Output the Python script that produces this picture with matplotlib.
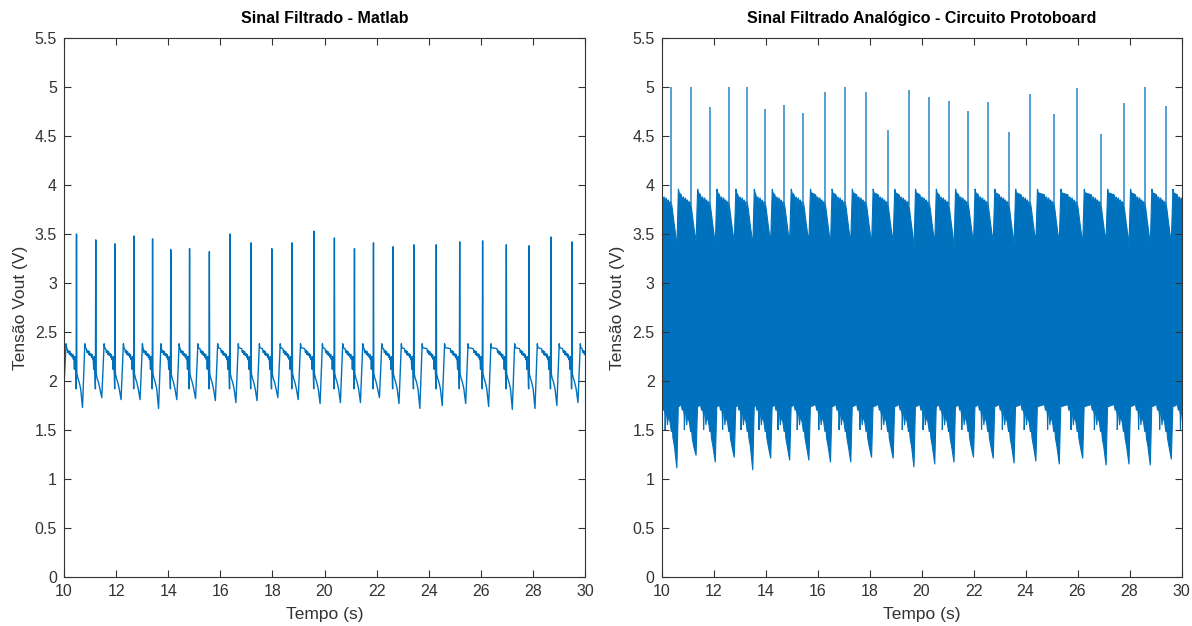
import numpy as np
import matplotlib
matplotlib.use("Agg")
import matplotlib.pyplot as plt
from matplotlib.ticker import FuncFormatter

plt.rcParams['font.family'] = ['Liberation Sans', 'DejaVu Sans']

BLUE = '#0072BD'
AXC = '#333333'

# ---- left: signal filtered in Matlab ----
# R spike times (s), R peak (V), trough after the spike (V)
spk_l = [9.76, 10.48, 11.22, 11.96, 12.69, 13.40, 14.10, 14.82, 15.58, 16.37, 17.18,
         17.98, 18.76, 19.60, 20.38, 21.15, 21.88, 22.63, 23.43, 24.29, 25.19,
         26.07, 26.98, 27.85, 28.69, 29.50, 30.25]
peak_l = [3.45, 3.50, 3.44, 3.40, 3.48, 3.45, 3.34, 3.35, 3.32, 3.50, 3.41,
          3.35, 3.41, 3.53, 3.46, 3.35, 3.41, 3.37, 3.39, 3.39, 3.42,
          3.43, 3.39, 3.38, 3.47, 3.42, 3.45]
trough_l = [1.90, 1.73, 1.83, 1.81, 1.81, 1.72, 1.81, 1.82, 1.80, 1.78, 1.80,
            1.83, 1.81, 1.77, 1.78, 1.78, 1.83, 1.77, 1.72, 1.75, 1.77,
            1.74, 1.71, 1.72, 1.75, 1.78, 1.80]
# shape of one beat around its spike: offset (s) and level (V); P = peak, T = trough
beat_off_l = [-0.36, -0.33, -0.30, -0.27, -0.25, -0.22, -0.19, -0.16, -0.14, -0.12,
              -0.10, -0.08, -0.06, -0.04, -0.015, 0.0, 0.012, 0.05, 0.10, 0.16,
              0.23, 0.32, 0.34]
beat_val_l = [2.33, 2.29, 2.31, 2.27, 2.30, 2.26, 2.28, 2.24, 2.27, 2.22,
              2.24, 2.12, 2.25, 2.20, 1.92, 'P', 2.08, 2.03, 1.99, 1.92,
              'T', 2.38, 2.34]

# ---- right: analog filtered signal, dense band ----
spk_r = [9.66, 10.38, 11.12, 11.86, 12.59, 13.30, 13.99, 14.72, 15.46, 16.29, 17.07,
         17.87, 18.70, 19.50, 20.30, 21.04, 21.79, 22.55, 23.35, 24.19, 25.09,
         25.99, 26.89, 27.77, 28.59, 29.40, 30.20]
peak_r = [4.90, 5.00, 5.00, 4.80, 5.00, 5.00, 4.78, 4.82, 4.73, 4.95, 5.00,
          4.95, 4.56, 4.97, 4.90, 4.86, 4.76, 4.85, 4.54, 4.93, 4.72,
          4.99, 4.52, 4.84, 5.00, 4.81, 4.90]
up_trough_r = [3.40, 3.34, 3.43, 3.39, 3.43, 3.36, 3.43, 3.44, 3.43, 3.38, 3.43,
               3.38, 3.43, 3.34, 3.41, 3.34, 3.41, 3.43, 3.39, 3.43, 3.43,
               3.39, 3.46, 3.38, 3.38, 3.43, 3.40]
low_trough_r = [1.20, 1.11, 1.24, 1.17, 1.22, 1.09, 1.21, 1.19, 1.19, 1.17, 1.17,
                1.22, 1.21, 1.12, 1.15, 1.17, 1.22, 1.21, 1.16, 1.18, 1.15,
                1.21, 1.14, 1.15, 1.14, 1.20, 1.20]
up_off = [-0.36, -0.32, -0.28, -0.24, -0.20, -0.16, -0.12, -0.08, -0.05, 0.0,
          0.04, 0.10, 0.16, 0.21, 0.27, 0.30]
up_val = [3.90, 3.85, 3.88, 3.83, 3.87, 3.82, 3.85, 3.80, 3.83, 3.82,
          3.75, 3.62, 3.50, 'T', 3.96, 3.92]
low_off = [-0.36, -0.32, -0.28, -0.25, -0.24, -0.22, -0.18, -0.15, -0.12, -0.10,
           -0.05, 0.0, 0.03, 0.06, 0.12, 0.21, 0.27, 0.30]
low_val = [1.76, 1.70, 1.72, 1.66, 1.50, 1.69, 1.66, 1.55, 1.65, 1.62,
           1.58, 1.48, 1.55, 1.42, 1.33, 'T', 1.78, 1.74]

yticks = np.arange(0, 5.51, 0.5)
xticks = np.arange(10, 31, 2)


def beats(times, offs, vals, peaks=None, troughs=None):
    t, v = [], []
    for i, ts in enumerate(times):
        for o, val in zip(offs, vals):
            t.append(ts + o)
            if val == 'P':
                v.append(peaks[i])
            elif val == 'T':
                v.append(troughs[i])
            else:
                v.append(val)
    return np.array(t), np.array(v)


def style(ax, title):
    ax.set_xlim(10, 30)
    ax.set_ylim(0, 5.5)
    ax.set_xticks(xticks)
    ax.set_yticks(yticks)
    ax.yaxis.set_major_formatter(FuncFormatter(lambda y, p: f'{y:g}'))
    ax.tick_params(direction='in', length=5, width=0.8, top=True, right=True,
                   colors=AXC, labelsize=11.5, pad=5)
    for s in ax.spines.values():
        s.set_color(AXC)
        s.set_linewidth(0.8)
    ax.set_title(title, fontsize=11.5, fontweight='bold', color='black', pad=11)
    ax.set_xlabel('Tempo (s)', fontsize=12.5, color=AXC, labelpad=6)
    ax.set_ylabel('Tensão Vout (V)', fontsize=12.5, color=AXC, labelpad=5)


fig = plt.figure(figsize=(11.92, 6.26), dpi=100)
ax1 = fig.add_axes([64 / 1192, 49 / 626, 521 / 1192, 539 / 626])
ax2 = fig.add_axes([661.5 / 1192, 49 / 626, 520 / 1192, 539 / 626])

# left
tl, vl = beats(spk_l, beat_off_l, beat_val_l, peak_l, trough_l)
ax1.plot(tl, vl, color=BLUE, lw=1.0)
style(ax1, 'Sinal Filtrado - Matlab')

# right: band between upper and lower edges, spikes on top
tu, vu = beats(spk_r, up_off, up_val, troughs=up_trough_r)
td, vd = beats(spk_r, low_off, low_val, troughs=low_trough_r)
ax2.fill(np.concatenate([tu, td[::-1]]), np.concatenate([vu, vd[::-1]]),
         color=BLUE, lw=0.8, ec=BLUE)
ax2.vlines(spk_r, 3.8, peak_r, color='#2a86c8', lw=1.1)
style(ax2, 'Sinal Filtrado Analógico - Circuito Protoboard')

fig.savefig('out.png', dpi=100)
